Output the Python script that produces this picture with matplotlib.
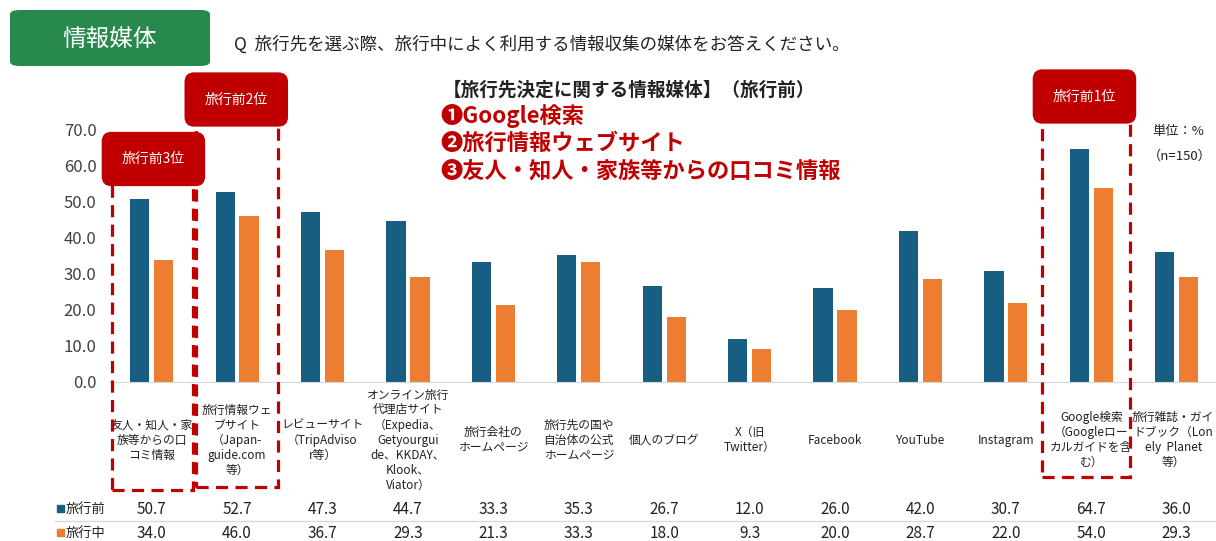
import matplotlib.pyplot as plt
import numpy as np
from matplotlib.patches import Rectangle, FancyBboxPatch

plt.rcParams['font.family'] = ['Noto Sans CJK JP', 'DejaVu Sans']

# data
categories = [
    "友人・知人・家\n族等からの口\nコミ情報",
    "旅行情報ウェ\nブサイト\n（Japan-\nguide.com\n等）",
    "レビューサイト\n（TripAdviso\nr等）",
    "オンライン旅行\n代理店サイト\n（Expedia、\nGetyourgui\nde、KKDAY、\nKlook、\nViator）",
    "旅行会社の\nホームページ",
    "旅行先の国や\n自治体の公式\nホームページ",
    "個人のブログ",
    "X（旧\nTwitter）",
    "Facebook",
    "YouTube",
    "Instagram",
    "Google検索\n（Googleロー\nカルガイドを含\nむ）",
    "旅行雑誌・ガイ\nドブック（Lon\nely  Planet\n等）",
]
before = [50.7, 52.7, 47.3, 44.7, 33.3, 35.3, 26.7, 12.0, 26.0, 42.0, 30.7, 64.7, 36.0]
during = [34.0, 46.0, 36.7, 29.3, 21.3, 33.3, 18.0, 9.3, 20.0, 28.7, 22.0, 54.0, 29.3]
series_names = ["旅行前", "旅行中"]
rank_labels = {0: "旅行前3位", 1: "旅行前2位", 11: "旅行前1位"}
yticks = [0, 10, 20, 30, 40, 50, 60, 70]

BLUE = '#185E83'
ORANGE = '#ED7D31'
RED = '#C00000'
GREEN = '#27894B'

W, H = 1216, 541
fig = plt.figure(figsize=(W / 100, H / 100), dpi=100)


def fx(px):
    return px / W


def fy(py):
    return 1 - py / H


ax = fig.add_axes([fx(109), fy(382), fx(1216) - fx(109), fy(130) - fy(382)])
x = np.arange(len(categories))
ax.bar(x - 0.14, before, width=0.225, color=BLUE, zorder=2)
ax.bar(x + 0.14, during, width=0.225, color=ORANGE, zorder=2)
ax.set_xlim(-0.5, 12.46)
ax.set_ylim(0, 70)
ax.set_yticks(yticks)
ax.set_yticklabels([f"{v:.1f}" for v in yticks], fontsize=12, color='#404040')
ax.tick_params(axis='y', length=0, pad=9)
ax.set_xticks([])
for s in ['top', 'right', 'left']:
    ax.spines[s].set_visible(False)
ax.spines['bottom'].set_color('#D9D9D9')
ax.patch.set_alpha(0)


# px -> data y
def dy(py):
    return (382 - py) / 3.6


# category labels
for i, c in enumerate(categories):
    xi = i - 0.04 if i == len(categories) - 1 else i
    ax.text(xi, dy(440), c, ha='center', va='center', fontsize=8.5,
            linespacing=1.2, color='#222222', clip_on=False)

# data table
for i in range(len(categories)):
    ax.text(i, dy(509), f"{before[i]:.1f}", ha='center', va='center',
            fontsize=11, color='#222222', clip_on=False)
    ax.text(i, dy(533), f"{during[i]:.1f}", ha='center', va='center',
            fontsize=11, color='#222222', clip_on=False)
fig.add_artist(plt.Line2D([fx(55), fx(1216)], [fy(521), fy(521)], color='#D9D9D9', lw=1))
for name, col, py in [(series_names[0], BLUE, 509), (series_names[1], ORANGE, 533)]:
    fig.add_artist(Rectangle((fx(57), fy(py + 3)), fx(7), 7 / H, color=col))
    fig.text(fx(66), fy(py), name, ha='left', va='center', fontsize=9.5, color='#222222')

# dashed highlight boxes
dash_boxes = [(-0.47, 0.48, dy(175), dy(490)),
              (0.515, 1.475, dy(118), dy(487)),
              (10.42, 11.45, dy(118), dy(477))]
for x0, x1, y0, y1 in dash_boxes:
    ax.add_patch(Rectangle((x0, y1), x1 - x0, y0 - y1, fill=False, edgecolor=RED,
                           lw=2.3, linestyle=(0, (3.8, 2.3)), clip_on=False, zorder=3))

# rank label boxes
rank_pos = {0: (0.02, dy(159)), 1: (0.99, dy(99.5)), 11: (10.92, dy(96.5))}
for k, lab in rank_labels.items():
    px_, py_ = rank_pos[k]
    ax.text(px_, py_, lab, ha='center', va='center', fontsize=10, color='white',
            clip_on=False, zorder=5,
            bbox=dict(boxstyle='round,pad=1.45,rounding_size=0.7', fc=RED, ec='none'))

# header
fig.add_artist(FancyBboxPatch((fx(10), fy(66)), fx(200), 56 / H,
                              boxstyle='round,pad=0,rounding_size=0.008',
                              fc=GREEN, ec='none'))
fig.text(fx(110), fy(39), "情報媒体", ha='center', va='center', fontsize=17, color='white')
fig.text(fx(234), fy(45), "Q  旅行先を選ぶ際、旅行中によく利用する情報収集の媒体をお答えください。",
         ha='left', va='center', fontsize=12.6, color='#222222')

fig.text(fx(443), fy(90), "【旅行先決定に関する情報媒体】（旅行前）", ha='left', va='center',
         fontsize=13.4, fontweight='bold', color='#222222')
for t, py in [("❶Google検索", 116), ("❷旅行情報ウェブサイト", 143), ("❸友人・知人・家族等からの口コミ情報", 171)]:
    fig.text(fx(440), fy(py), t, ha='left', va='center', fontsize=16,
             fontweight='bold', color=RED)

fig.text(fx(1152), fy(131), "単位：%", ha='left', va='center', fontsize=9.5, color='#222222')
fig.text(fx(1148), fy(156), "（n=150）", ha='left', va='center', fontsize=9.5, color='#222222')

fig.savefig('out.png', dpi=100)
